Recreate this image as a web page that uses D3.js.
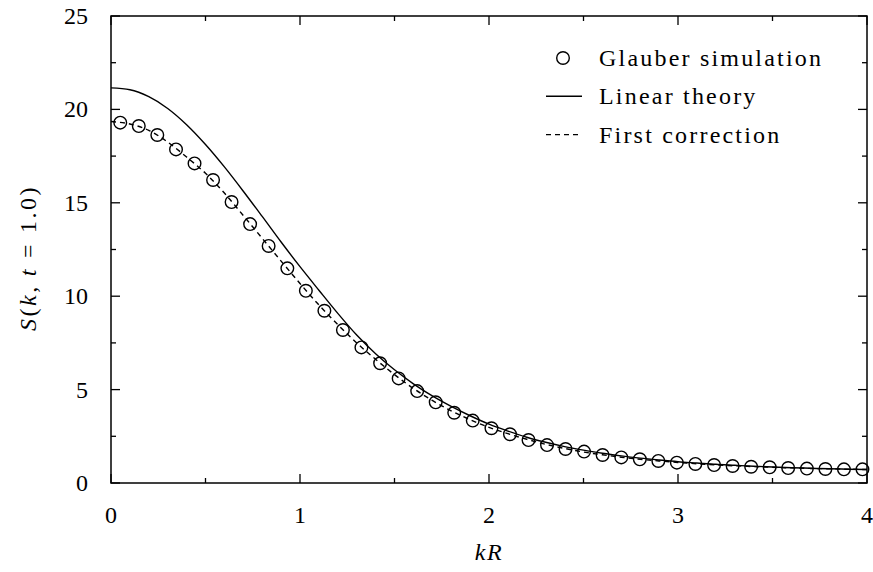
<!DOCTYPE html>
<html>
<head>
<meta charset="utf-8">
<script src="https://cdnjs.cloudflare.com/ajax/libs/d3/7.8.5/d3.min.js"></script>
<style>
  body { margin: 0; background: #fff; }
</style>
</head>
<body>
<svg id="chart" width="873" height="572"></svg>
<script>
// Glauber simulation points (kR, S)
const simK = [0.049, 0.147, 0.245, 0.344, 0.442, 0.540, 0.638, 0.736, 0.834, 0.933,
  1.031, 1.129, 1.227, 1.325, 1.424, 1.522, 1.620, 1.718, 1.816, 1.914,
  2.013, 2.111, 2.209, 2.307, 2.405, 2.503, 2.601, 2.700, 2.798, 2.896,
  2.994, 3.092, 3.191, 3.289, 3.387, 3.485, 3.583, 3.682, 3.780, 3.878, 3.976];
const simS = [19.29, 19.11, 18.63, 17.86, 17.11, 16.22, 15.04, 13.86, 12.69, 11.49,
  10.29, 9.22, 8.19, 7.26, 6.41, 5.60, 4.92, 4.32, 3.76, 3.34,
  2.93, 2.61, 2.30, 2.03, 1.82, 1.68, 1.50, 1.37, 1.27, 1.18,
  1.09, 1.02, 0.96, 0.91, 0.87, 0.84, 0.80, 0.77, 0.75, 0.73, 0.73];

// theory curves sampled at kR = 0, 0.1, ... 4.0
const curveK = [0.0, 0.1, 0.2, 0.3, 0.4, 0.5, 0.6, 0.7, 0.8, 0.9,
  1.0, 1.1, 1.2, 1.3, 1.4, 1.5, 1.6, 1.7, 1.8, 1.9,
  2.0, 2.1, 2.2, 2.3, 2.4, 2.5, 2.6, 2.7, 2.8, 2.9,
  3.0, 3.1, 3.2, 3.3, 3.4, 3.5, 3.6, 3.7, 3.8, 3.9, 4.0];
const linearS = [21.15, 21.05, 20.68, 20.05, 19.18, 18.12, 16.92, 15.62, 14.27, 12.90,
  11.58, 10.32, 9.08, 7.92, 6.92, 6.06, 5.31, 4.66, 4.10, 3.60,
  3.15, 2.78, 2.45, 2.18, 1.95, 1.76, 1.59, 1.45, 1.33, 1.23,
  1.14, 1.07, 1.00, 0.95, 0.90, 0.86, 0.82, 0.79, 0.76, 0.74, 0.72];
const correctionS = [19.35, 19.22, 18.88, 18.25, 17.45, 16.58, 15.52, 14.32, 13.10, 11.88,
  10.68, 9.53, 8.48, 7.50, 6.62, 5.80, 5.06, 4.42, 3.86, 3.39,
  2.98, 2.64, 2.34, 2.07, 1.85, 1.66, 1.51, 1.38, 1.27, 1.18,
  1.10, 1.03, 0.97, 0.92, 0.88, 0.84, 0.81, 0.78, 0.76, 0.74, 0.72];

const xMajor = [0, 1, 2, 3, 4];
const xMinor = [0.5, 1.5, 2.5, 3.5];
const yMajor = [0, 5, 10, 15, 20, 25];
const yMinor = [2.5, 7.5, 12.5, 17.5, 22.5];
const legendItems = ["Glauber simulation", "Linear theory", "First correction"];

const FONT = "'Liberation Serif', 'DejaVu Serif', 'Times New Roman', Times, serif";

const svg = d3.select("#chart")
  .attr("font-family", FONT);
const m = { left: 111, right: 867, top: 16, bottom: 483 };

const x = d3.scaleLinear().domain([0, 4]).range([m.left, m.right]);
const y = d3.scaleLinear().domain([0, 25]).range([m.bottom, m.top]);

// curves
const line = d3.line().x(d => x(d[0])).y(d => y(d[1])).curve(d3.curveMonotoneX);

svg.append("path")
  .datum(curveK.map((k, i) => [k, linearS[i]]))
  .attr("d", line)
  .attr("fill", "none").attr("stroke", "#000").attr("stroke-width", 1.4);

svg.append("path")
  .datum(curveK.map((k, i) => [k, correctionS[i]]))
  .attr("d", line)
  .attr("fill", "none").attr("stroke", "#000").attr("stroke-width", 1.4)
  .attr("stroke-dasharray", "5,4");

svg.selectAll("circle.sim")
  .data(simK.map((k, i) => [k, simS[i]]))
  .enter().append("circle")
  .attr("class", "sim")
  .attr("cx", d => x(d[0])).attr("cy", d => y(d[1]))
  .attr("r", 6.3)
  .attr("fill", "none").attr("stroke", "#000").attr("stroke-width", 1.4);

// frame
svg.append("rect")
  .attr("x", m.left).attr("y", m.top)
  .attr("width", m.right - m.left).attr("height", m.bottom - m.top)
  .attr("fill", "none").attr("stroke", "#000").attr("stroke-width", 1.5);

// inward ticks on all four sides
const ticks = svg.append("g").attr("stroke", "#000").attr("stroke-width", 1.3);
function xTicks(vals, len) {
  vals.forEach(v => {
    ticks.append("line").attr("x1", x(v)).attr("x2", x(v)).attr("y1", m.bottom).attr("y2", m.bottom - len);
    ticks.append("line").attr("x1", x(v)).attr("x2", x(v)).attr("y1", m.top).attr("y2", m.top + len);
  });
}
function yTicks(vals, len) {
  vals.forEach(v => {
    ticks.append("line").attr("y1", y(v)).attr("y2", y(v)).attr("x1", m.left).attr("x2", m.left + len);
    ticks.append("line").attr("y1", y(v)).attr("y2", y(v)).attr("x1", m.right).attr("x2", m.right - len);
  });
}
xTicks(xMajor, 9); xTicks(xMinor, 5);
yTicks(yMajor, 9); yTicks(yMinor, 5);

svg.selectAll("text.xt")
  .data(xMajor).enter().append("text")
  .attr("class", "xt")
  .attr("x", d => x(d)).attr("y", 523)
  .attr("text-anchor", "middle").attr("font-size", 24)
  .text(d => d);

svg.selectAll("text.yt")
  .data(yMajor).enter().append("text")
  .attr("class", "yt")
  .attr("x", 88).attr("y", d => y(d) + 8)
  .attr("text-anchor", "end").attr("font-size", 24)
  .text(d => d);

// axis labels
const xl = svg.append("text")
  .attr("x", x(2)).attr("y", 560)
  .attr("text-anchor", "middle").attr("font-size", 24)
  .attr("letter-spacing", 1.5);
xl.append("tspan").attr("font-style", "italic").text("kR");

const yl = svg.append("text")
  .attr("transform", "translate(36,258) rotate(-90)")
  .attr("text-anchor", "middle").attr("font-size", 24)
  .attr("letter-spacing", 2.5);
yl.append("tspan").attr("font-style", "italic").text("S");
yl.append("tspan").text("(");
yl.append("tspan").attr("font-style", "italic").text("k");
yl.append("tspan").text(",");
yl.append("tspan").attr("dx", 8).attr("font-style", "italic").text("t");
yl.append("tspan").attr("dx", 9).text("=");
yl.append("tspan").attr("dx", 9).text("1.0)");

// legend
const legend = svg.append("g");
legendItems.forEach((name, i) => {
  const yy = 58 + i * 38.3;
  legend.append("text")
    .attr("x", 599).attr("y", yy + 8)
    .attr("font-size", 24).attr("letter-spacing", 2.2)
    .text(name);
  if (i === 0) {
    legend.append("circle").attr("cx", 563).attr("cy", yy).attr("r", 6.3)
      .attr("fill", "none").attr("stroke", "#000").attr("stroke-width", 1.4);
  } else {
    legend.append("line").attr("x1", 546).attr("x2", 582).attr("y1", yy).attr("y2", yy)
      .attr("stroke", "#000").attr("stroke-width", 1.4)
      .attr("stroke-dasharray", i === 2 ? "5,4" : null);
  }
});
</script>
</body>
</html>
